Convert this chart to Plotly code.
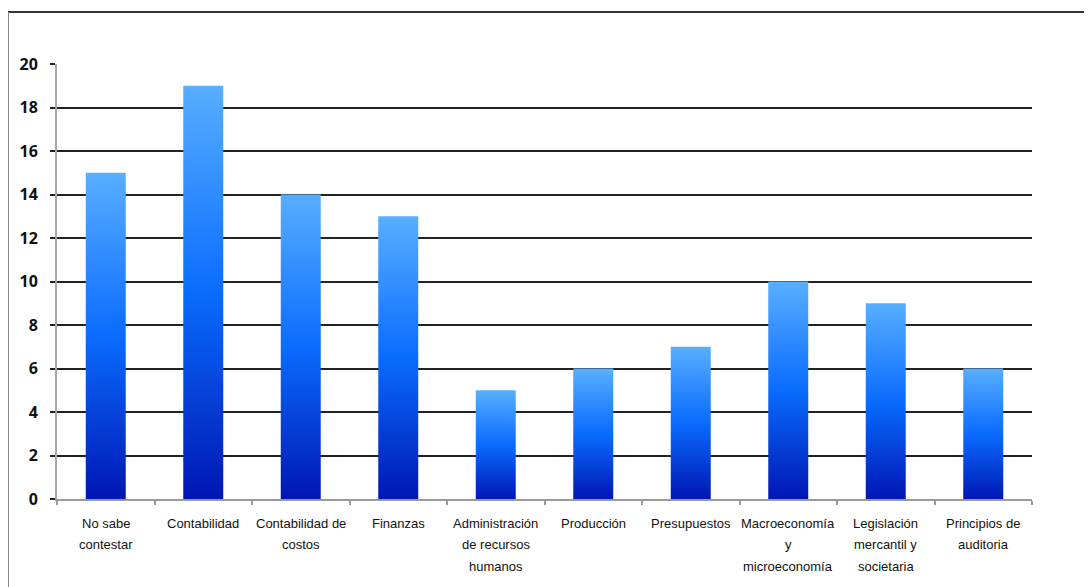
import plotly.graph_objects as go

categories = [
    "No sabe<br>contestar",
    "Contabilidad",
    "Contabilidad de<br>costos",
    "Finanzas",
    "Administración<br>de recursos<br>humanos",
    "Producción",
    "Presupuestos",
    "Macroeconomía<br>y<br>microeconomía",
    "Legislación<br>mercantil y<br>societaria",
    "Principios de<br>auditoria",
]
values = [15, 19, 14, 13, 5, 6, 7, 10, 9, 6]
y_ticks = [0, 2, 4, 6, 8, 10, 12, 14, 16, 18, 20]

BAR_W = 0.41
gradient = [[0.0, "#0016b4"], [0.5, "#0a6cff"], [1.0, "#58aeff"]]

fig = go.Figure()
for i, v in enumerate(values):
    x0, x1 = i - BAR_W / 2, i + BAR_W / 2
    fig.add_trace(go.Scatter(
        x=[x0, x0, x1, x1, x0],
        y=[0, v, v, 0, 0],
        mode="lines",
        line=dict(width=0),
        fill="toself",
        fillgradient=dict(type="vertical", colorscale=gradient),
        showlegend=False,
        hoverinfo="skip",
    ))

# category labels, one annotation per line to mimic the wide line spacing
label_font = dict(family="Liberation Sans Narrow, Arial Narrow, Liberation Sans", size=13, color="#111")
for i, lab in enumerate(categories):
    for k, line in enumerate(lab.split("<br>")):
        fig.add_annotation(x=i, y=0, xref="x", yref="paper", text=line, showarrow=False,
                           xanchor="center", yanchor="middle", yshift=-(24 + 21.5 * k),
                           font=label_font)

L, R, T, B = 49, 68, 56, 96
fig.update_layout(
    width=1092, height=587,
    margin=dict(l=L, r=R, t=T, b=B),
    paper_bgcolor="white", plot_bgcolor="white",
    xaxis=dict(
        range=[-0.5, len(values) - 0.5],
        tickmode="array",
        tickvals=list(range(len(values))),
        showticklabels=False,
        ticks="",
        showgrid=False,
        zeroline=False,
        showline=True, linecolor="#9a9a9a", linewidth=2,
        minor=dict(tickmode="linear", tick0=-0.5, dtick=1, ticks="outside", ticklen=4,
                   tickcolor="#9a9a9a", tickwidth=2, showgrid=False),
        fixedrange=True,
    ),
    yaxis=dict(
        range=[0, 20],
        tickmode="array",
        tickvals=y_ticks,
        showgrid=True, gridcolor="#222222", gridwidth=2,
        zeroline=False,
        showline=True, linecolor="#a8a8a8", linewidth=2,
        ticks="outside", ticklen=5, tickcolor="#222222", tickwidth=2,
        tickfont=dict(family="Open Sans, Liberation Sans", size=16, color="#111", weight="bold"),
        ticklabelstandoff=9,
        fixedrange=True,
    ),
)

# outer frame (top and left edges)
pw, ph = 1092 - L - R, 587 - T - B
fx = (0 - L) / pw
fy_top = (587 - B - 4) / ph
fy_bot = (587 - B - 600) / ph
fig.add_shape(type="line", xref="paper", yref="paper", x0=fx, x1=(1100 - L) / pw,
              y0=fy_top, y1=fy_top, line=dict(color="#333333", width=2))
fig.add_shape(type="line", xref="paper", yref="paper", x0=fx, x1=fx,
              y0=fy_top, y1=fy_bot, line=dict(color="#8a8a8a", width=2))

fig.write_html("out.html")
